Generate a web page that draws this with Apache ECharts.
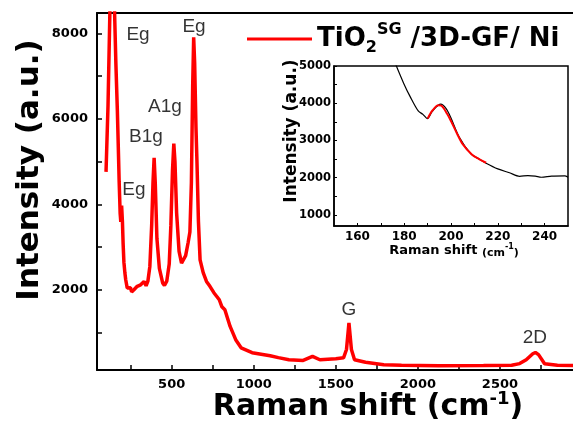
<!DOCTYPE html>
<html>
<head>
<meta charset="utf-8">
<script src="https://cdn.jsdelivr.net/npm/echarts@6/dist/echarts.min.js"></script>
<style>html,body{margin:0;padding:0;background:#fff;}</style>
</head>
<body>
<div id="main" style="width:573px;height:423px;"></div>
<script type="text/javascript">
// main spectrum (cm-1 / a.u.)
var ramanX = [100, 112, 124, 135, 144, 152, 160, 169, 177, 180, 183, 186, 190, 195, 200, 204, 209, 215, 220, 229, 238, 249, 256,
  270, 290, 311, 332, 344, 355, 367, 378, 386, 393, 400, 410, 425, 445, 456, 470, 485, 495, 505, 513, 520, 530, 545, 560,
  569, 585, 600, 611, 620, 628, 634, 640, 648, 654, 663, 673, 692, 712, 733, 757, 776, 790, 806, 824, 856, 890, 923, 990,
  1100, 1150, 1214, 1301, 1358, 1403, 1500, 1547, 1565, 1580, 1595, 1614, 1681, 1792, 1900, 2126, 2400, 2571, 2620, 2660,
  2700, 2716, 2735, 2772, 2850, 2945];
var intensity = [4760, 6300, 8600, 12500, 14000, 8500, 7300, 6200, 5000, 4530, 4170, 3790, 3590, 3970, 3590, 3090, 2640, 2390, 2235, 2040, 2010, 2045, 1950,
  2000, 2080, 2115, 2195, 2090, 2200, 2545, 3500, 4500, 5090, 4500, 3200, 2500, 2160, 2100, 2200, 2600, 3500, 4800, 5420, 5000, 3800, 2900, 2620,
  2580, 2800, 3100, 3350, 4500, 6800, 7910, 7300, 5800, 5000, 3600, 2700, 2400, 2195, 2080, 1930, 1835, 1765, 1600, 1530, 1140, 830, 640, 525,
  455, 410, 360, 345, 440, 360, 385, 405, 600, 1225, 600, 360, 300, 245, 230, 220, 225, 230, 270, 360,
  500, 530, 480, 265, 230, 225];

// inset: zoom on the 197 cm-1 Eg band
var insetX = [176, 179.8, 182.6, 186, 188, 189.9, 192, 195.6, 198, 200, 203.5, 208.5, 212, 215, 220, 225, 229.3, 232.9, 236, 238.6, 243, 248.6, 250];
var insetY = [5100, 4532, 4170, 3792, 3700, 3586, 3780, 3973, 3850, 3600, 3090, 2640, 2500, 2387, 2235, 2130, 2036, 2054, 2040, 2010, 2040, 2046, 2010];
var fitX = [190, 192, 194.6, 196, 198.4, 200, 202.6, 205, 208.9, 212, 215];
var fitY = [3586, 3800, 3946, 3930, 3710, 3520, 3180, 2900, 2622, 2500, 2400];

// peak labels
var peakNames = ['Eg', 'Eg', 'A1g', 'B1g', 'Eg', 'G', '2D'];
var peakX = [295, 636, 459, 343, 270, 1580, 2713];
var peakY = [7975, 8160, 6290, 5585, 4340, 1530, 875];

// ticks
var mainXLabels = [500, 1000, 1500, 2000, 2500];
var mainXTicks = [250, 500, 750, 1000, 1250, 1500, 1750, 2000, 2250, 2500, 2750];
var mainYLabels = [2000, 4000, 6000, 8000];
var mainYTicks = [1000, 2000, 3000, 4000, 5000, 6000, 7000, 8000];
var insetXLabels = [160, 180, 200, 220, 240];
var insetXTicks = [160, 170, 180, 190, 200, 210, 220, 230, 240];
var insetYLabels = [1000, 2000, 3000, 4000, 5000];
var insetYTicks = [1000, 1500, 2000, 2500, 3000, 3500, 4000, 4500, 5000];

function zip(xs, ys) {
  return xs.map(function (x, i) { return [x, ys[i]]; });
}
function plain(v) { return String(v); }

var FONT = "'DejaVu Sans', sans-serif";
var black = '#000';

var myChart = echarts.init(document.getElementById('main'));

var tickLabel = { color: black, fontFamily: FONT, fontWeight: 'bold', fontSize: 13, formatter: plain };

option = {
  animation: false,
  backgroundColor: '#fff',
  grid: [
    { left: 97, top: 13, right: 0, bottom: 53 },
    { left: 334, top: 66, width: 234, height: 160, show: true, borderColor: black, borderWidth: 1.5, backgroundColor: '#fff', z: 5 }
  ],
  legend: {
    data: ['TiO2'],
    left: 247, top: 22, padding: 0,
    itemWidth: 65, itemHeight: 3, icon: 'rect', itemGap: 8,
    formatter: function () { return '{b|TiO}{sub|2}{sup|SG}{b| /3D-GF/ Ni}'; },
    textStyle: {
      rich: {
        b: { fontFamily: FONT, fontWeight: 'bold', fontSize: 26, color: black, lineHeight: 34 },
        sub: { fontFamily: FONT, fontWeight: 'bold', fontSize: 16, color: black, lineHeight: 12, verticalAlign: 'bottom' },
        sup: { fontFamily: FONT, fontWeight: 'bold', fontSize: 16, color: black, lineHeight: 16, verticalAlign: 'top' }
      }
    }
  },
  xAxis: [
    {
      type: 'value', gridIndex: 0, min: 45, max: 2945,
      axisLine: { onZero: false, lineStyle: { color: black, width: 2 } },
      axisTick: { inside: true, length: 5, lineStyle: { width: 1.5 }, customValues: mainXTicks },
      axisLabel: Object.assign({ margin: 8, customValues: mainXLabels }, tickLabel),
      splitLine: { show: false }
    },
    {
      type: 'value', gridIndex: 0, position: 'top', min: 45, max: 2945,
      axisLine: { onZero: false, lineStyle: { color: black, width: 2 } },
      axisTick: { show: false }, axisLabel: { show: false }, splitLine: { show: false }
    },
    {
      type: 'value', gridIndex: 1, min: 150, max: 250, z: 6,
      axisLine: { onZero: false, lineStyle: { color: black, width: 1.5 } },
      axisTick: { inside: true, length: 3, customValues: insetXTicks },
      axisLabel: Object.assign({}, tickLabel, { margin: 5, fontSize: 12, customValues: insetXLabels }),
      splitLine: { show: false }
    }
  ],
  yAxis: [
    {
      type: 'value', gridIndex: 0, min: 120, max: 8480,
      axisLine: { onZero: false, lineStyle: { color: black, width: 2 } },
      axisTick: { inside: true, length: 5, lineStyle: { width: 1.5 }, customValues: mainYTicks },
      axisLabel: Object.assign({ margin: 9, customValues: mainYLabels }, tickLabel),
      splitLine: { show: false }
    },
    {
      type: 'value', gridIndex: 1, min: 700, max: 5000, z: 6,
      axisLine: { onZero: false, lineStyle: { color: black, width: 1.5 } },
      axisTick: { inside: true, length: 3, customValues: insetYTicks },
      axisLabel: Object.assign({}, tickLabel, { margin: 3, fontSize: 11.5, customValues: insetYLabels }),
      splitLine: { show: false }
    }
  ],
  graphic: [
    {
      type: 'text', x: 30, y: 170, rotation: Math.PI / 2,
      style: { text: 'Intensity (a.u.)', font: 'bold 31px ' + FONT, fill: black, align: 'center', verticalAlign: 'middle' }
    },
    {
      type: 'text', x: 368, y: 407,
      style: {
        text: '{a|Raman shift (cm}{s|-1}{a|)}', align: 'center', verticalAlign: 'middle',
        rich: {
          a: { fontFamily: FONT, fontWeight: 'bold', fontSize: 30, fill: black, lineHeight: 34 },
          s: { fontFamily: FONT, fontWeight: 'bold', fontSize: 18, fill: black, lineHeight: 18, verticalAlign: 'top' }
        }
      }
    },
    {
      type: 'text', x: 292, y: 131, rotation: Math.PI / 2, z: 10,
      style: { text: 'Intensity (a.u.)', font: 'bold 17px ' + FONT, fill: black, align: 'center', verticalAlign: 'middle' }
    },
    {
      type: 'text', x: 454, y: 251, z: 10,
      style: {
        text: '{a|Raman shift }{b|(cm}{s|-1}{b|)}', align: 'center', verticalAlign: 'middle',
        rich: {
          a: { fontFamily: FONT, fontWeight: 'bold', fontSize: 13, fill: black, lineHeight: 16 },
          b: { fontFamily: FONT, fontWeight: 'bold', fontSize: 11, fill: black, lineHeight: 14, verticalAlign: 'bottom' },
          s: { fontFamily: FONT, fontWeight: 'bold', fontSize: 8, fill: black, lineHeight: 10, verticalAlign: 'top' }
        }
      }
    }
  ],
  series: [
    {
      name: 'TiO2', type: 'line', xAxisIndex: 0, yAxisIndex: 0,
      data: zip(ramanX, intensity), showSymbol: false, clip: true,
      lineStyle: { color: '#ff0000', width: 3.5 }, itemStyle: { color: '#ff0000' }
    },
    {
      type: 'scatter', xAxisIndex: 0, yAxisIndex: 0, symbolSize: 0,
      data: peakNames.map(function (n, i) { return { name: n, value: [peakX[i], peakY[i]] }; }),
      label: { show: true, position: 'inside', formatter: '{b}', color: black, textBorderWidth: 0, fontFamily: "'Liberation Sans', Arial, sans-serif", fontSize: 19 }
    },
    {
      type: 'line', xAxisIndex: 2, yAxisIndex: 1, z: 7,
      data: zip(insetX, insetY), showSymbol: false, clip: true, smooth: 0.3,
      lineStyle: { color: black, width: 1.2 }
    },
    {
      type: 'line', xAxisIndex: 2, yAxisIndex: 1, z: 8,
      data: zip(fitX, fitY), showSymbol: false, clip: true, smooth: 0.3,
      lineStyle: { color: '#ff0000', width: 2 }
    }
  ]
};

myChart.setOption(option);
</script>
</body>
</html>
